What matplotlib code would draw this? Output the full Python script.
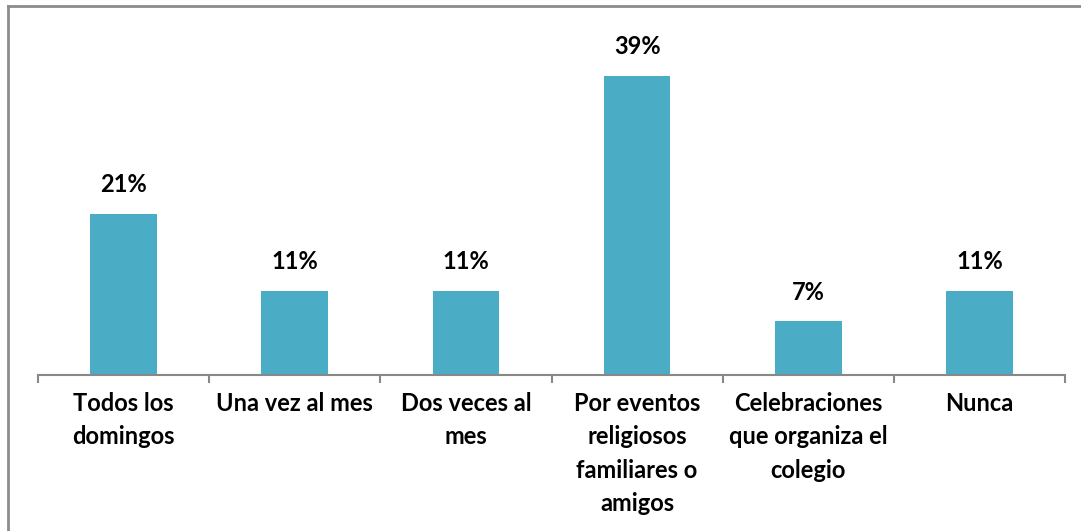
import matplotlib.pyplot as plt
from matplotlib.lines import Line2D

categories = ['Todos los\ndomingos', 'Una vez al mes', 'Dos veces al\nmes',
              'Por eventos\nreligiosos\nfamiliares o\namigos',
              'Celebraciones\nque organiza el\ncolegio', 'Nunca']
values = [21, 11, 11, 39, 7, 11]
labels = ['21%', '11%', '11%', '39%', '7%', '11%']

plt.rcParams['font.family'] = ['Lato', 'DejaVu Sans']

fig = plt.figure(figsize=(10.81, 5.31), dpi=100)
ax = fig.add_axes([38 / 1081, 1 - 375 / 531, 1027 / 1081, 345 / 531])

x = range(len(values))
ax.bar(x, values, width=0.39, color='#4BACC6')
for i, v in enumerate(values):
    ax.text(i, v + 2.3, labels[i], ha='center', va='bottom',
            fontsize=17, fontweight='bold')

ax.set_xlim(-0.5, len(values) - 0.5)
ax.set_ylim(0, 45)
ax.set_yticks([])
ax.set_xticks(list(x))
ax.set_xticklabels(categories, fontsize=17, fontweight='bold', linespacing=1.55)
ax.tick_params(axis='x', which='major', length=0, pad=12)
ax.set_xticks([i - 0.5 for i in range(len(values) + 1)], minor=True)
ax.tick_params(axis='x', which='minor', length=6, width=1.5, color='#888888', direction='out')
for s in ['top', 'right', 'left']:
    ax.spines[s].set_visible(False)
ax.spines['bottom'].set_color('#888888')
ax.spines['bottom'].set_linewidth(1.5)

# outer border (top and left only visible)
fig.add_artist(Line2D([8 / 1081, 8 / 1081], [0, 1 - 6 / 531], transform=fig.transFigure,
                      color='#8c8c8c', lw=2))
fig.add_artist(Line2D([8 / 1081, 1], [1 - 6 / 531, 1 - 6 / 531], transform=fig.transFigure,
                      color='#8c8c8c', lw=2))

fig.savefig('out.png', dpi=100)
